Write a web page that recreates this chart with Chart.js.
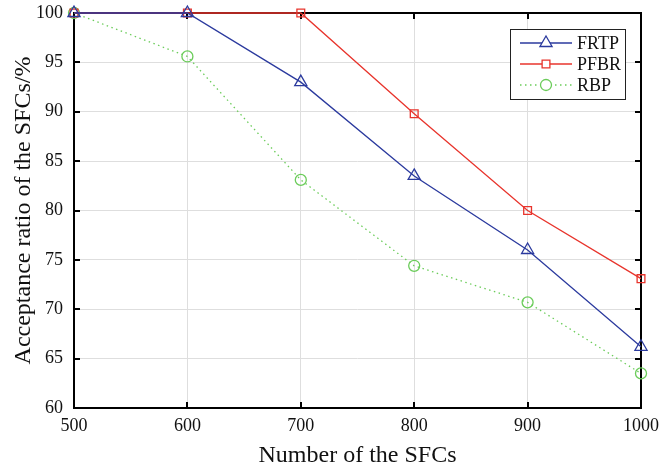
<!DOCTYPE html>
<html>
<head>
<meta charset="utf-8">
<script src="https://cdn.jsdelivr.net/npm/chart.js@4.4.0/dist/chart.umd.min.js"></script>
<style>
  html, body { margin: 0; padding: 0; background: #fff; }
  #wrap { width: 663px; height: 470px; position: relative; }
</style>
</head>
<body>
<div id="wrap"><canvas id="chart"></canvas></div>
<script>
const sfcCounts = [500, 600, 700, 800, 900, 1000];
const frtp = [100, 100, 93.0, 83.5, 76.0, 66.2];
const pfbr = [100, 100, 100, 89.8, 80.0, 73.1];
const rbp = [100, 95.6, 83.1, 74.4, 70.7, 63.5];
const xTicks = [500, 600, 700, 800, 900, 1000];
const yTicks = [60, 65, 70, 75, 80, 85, 90, 95, 100];

const serif = '"Liberation Serif", "Times New Roman", serif';

const toPoints = arr => arr.map((v, i) => ({ x: sfcCounts[i], y: v }));

// box frame + inward ticks on all 4 sides
const framePlugin = {
    id: 'frame',
    beforeDatasetsDraw(chart) {
        const { ctx, chartArea: a, scales } = chart;
        ctx.save();
        ctx.strokeStyle = '#000';
        ctx.lineWidth = 2;
        ctx.beginPath();
        xTicks.forEach(t => {
            const px = Math.round(scales.x.getPixelForValue(t));
            ctx.moveTo(px, a.bottom); ctx.lineTo(px, a.bottom - 6);
            ctx.moveTo(px, a.top); ctx.lineTo(px, a.top + 6);
        });
        yTicks.forEach(t => {
            const py = Math.round(scales.y.getPixelForValue(t));
            ctx.moveTo(a.left, py); ctx.lineTo(a.left + 6, py);
            ctx.moveTo(a.right, py); ctx.lineTo(a.right - 6, py);
        });
        ctx.stroke();
        ctx.strokeRect(a.left, a.top, a.right - a.left, a.bottom - a.top);
        ctx.restore();
    }
};

// legend box in upper right, line + marker samples
const legendPlugin = {
    id: 'boxLegend',
    afterDatasetsDraw(chart) {
        const { ctx } = chart;
        const x0 = 510, y0 = 29, w = 115, h = 70;
        ctx.save();
        ctx.fillStyle = '#fff';
        ctx.fillRect(x0, y0, w, h);
        ctx.strokeStyle = '#222';
        ctx.lineWidth = 1;
        ctx.strokeRect(x0 + 0.5, y0 + 0.5, w, h);
        chart.data.datasets.forEach((ds, i) => {
            const cy = y0 + 14 + i * 21;
            ctx.strokeStyle = ds.borderColor;
            ctx.lineWidth = ds.borderWidth;
            ctx.setLineDash(ds.borderDash || []);
            ctx.beginPath();
            ctx.moveTo(x0 + 10, cy); ctx.lineTo(x0 + 62, cy);
            ctx.stroke();
            ctx.setLineDash([]);
            ctx.fillStyle = '#fff';
            ctx.strokeStyle = ds.borderColor;
            ctx.lineWidth = 1.3;
            Chart.helpers.drawPoint(ctx, {
                pointStyle: ds.pointStyle,
                rotation: 0,
                radius: ds.pointRadius,
                borderWidth: 1.3
            }, x0 + 36, cy);
            ctx.fillStyle = '#111';
            ctx.font = '18px ' + serif;
            ctx.textBaseline = 'middle';
            ctx.fillText(ds.label, x0 + 67, cy + 1);
        });
        ctx.restore();
    }
};

new Chart(document.getElementById('chart'), {
    type: 'line',
    data: {
        datasets: [
            {
                label: 'FRTP',
                data: toPoints(frtp),
                borderColor: '#2b3a9e',
                borderWidth: 1.3,
                pointStyle: 'triangle',
                pointRadius: 7,
                pointBorderWidth: 1.3,
                pointBackgroundColor: 'rgba(0,0,0,0)',
                pointBorderColor: '#2b3a9e',
                clip: false
            },
            {
                label: 'PFBR',
                data: toPoints(pfbr),
                borderColor: '#e8342c',
                borderWidth: 1.3,
                pointStyle: 'rect',
                pointRadius: 5.5,
                pointBorderWidth: 1.3,
                pointBackgroundColor: 'rgba(0,0,0,0)',
                pointBorderColor: '#e8342c',
                clip: false
            },
            {
                label: 'RBP',
                data: toPoints(rbp),
                borderColor: '#6bcc5a',
                borderWidth: 1.3,
                borderDash: [1.5, 3.5],
                pointStyle: 'circle',
                pointRadius: 5.5,
                pointBorderWidth: 1.3,
                pointBackgroundColor: 'rgba(0,0,0,0)',
                pointBorderColor: '#6bcc5a',
                clip: false
            }
        ]
    },
    options: {
        responsive: true,
        maintainAspectRatio: false,
        animation: false,
        layout: { padding: { left: 0, top: 13, right: 22, bottom: 0 } },
        plugins: {
            legend: { display: false },
            tooltip: { enabled: false }
        },
        scales: {
            x: {
                type: 'linear',
                min: 500,
                max: 1000,
                afterBuildTicks: s => { s.ticks = xTicks.map(v => ({ value: v })); },
                afterFit: s => { s.height = 62; s.paddingLeft = 0; s.paddingRight = 0; },
                grid: { color: '#dedede', lineWidth: 1, drawTicks: false },
                border: { display: false },
                ticks: {
                    color: '#111',
                    font: { family: serif, size: 18 },
                    padding: 7,
                    callback: v => String(v)
                },
                title: {
                    display: true,
                    text: 'Number of the SFCs',
                    color: '#111',
                    font: { family: serif, size: 24 },
                    padding: { top: 1, bottom: 0 }
                }
            },
            y: {
                min: 60,
                max: 100,
                afterBuildTicks: s => { s.ticks = yTicks.map(v => ({ value: v })); },
                afterFit: s => { s.width = 74; s.paddingTop = 0; s.paddingBottom = 0; },
                grid: { color: '#dedede', lineWidth: 1, drawTicks: false },
                border: { display: false },
                ticks: {
                    color: '#111',
                    font: { family: serif, size: 18 },
                    padding: 11,
                    callback: v => String(v)
                },
                title: {
                    display: true,
                    text: 'Acceptance ratio of the SFCs/%',
                    color: '#111',
                    font: { family: serif, size: 24 },
                    padding: { top: 9, bottom: 0 }
                }
            }
        }
    },
    plugins: [framePlugin, legendPlugin]
});
</script>
</body>
</html>
